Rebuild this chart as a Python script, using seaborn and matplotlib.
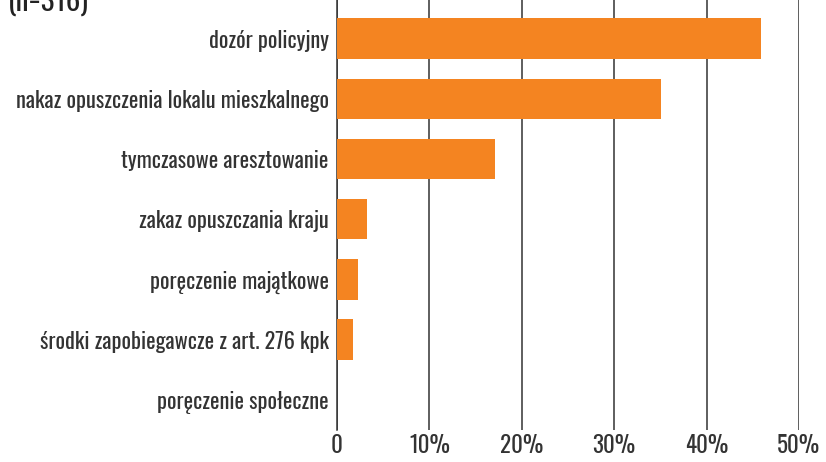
import matplotlib
matplotlib.use("Agg")
import matplotlib.pyplot as plt
import seaborn as sns
import pandas as pd
from matplotlib import font_manager

categories = [
    "dozór policyjny",
    "nakaz opuszczenia lokalu mieszkalnego",
    "tymczasowe aresztowanie",
    "zakaz opuszczania kraju",
    "poręczenie majątkowe",
    "środki zapobiegawcze z art. 276 kpk",
    "poręczenie społeczne",
]
values = [45.9, 35.1, 17.1, 3.2, 2.3, 1.7, 0.0]
xticks = [0, 10, 20, 30, 40, 50]
xtick_labels = ["0", "10%", "20%", "30%", "40%", "50%"]

sns.set_theme(style="white")
names = {f.name for f in font_manager.fontManager.ttflist}
family = "DejaVu Sans"
for cand in ["Oswald Light", "Oswald", "Roboto Condensed", "Barlow Condensed"]:
    if cand in names:
        family = cand
        break
title_family = "Oswald" if "Oswald" in names else family
plt.rcParams["font.family"] = [family, "DejaVu Sans"]

df = pd.DataFrame({"cat": categories, "val": values})

fig = plt.figure(figsize=(8.26, 4.62), dpi=100)
ax = fig.add_axes([337 / 826, 32 / 462, (799 - 337) / 826, 430 / 462])
sns.barplot(data=df, x="val", y="cat", color="#F48421", saturation=1, width=0.67,
            linewidth=0, ax=ax, zorder=3)

ax.set_xlim(0, 50)
ax.set_ylim(6.5, -0.64)
ax.set_xticks(xticks)
ax.set_xticklabels(xtick_labels, fontsize=16.5, color="#333333", fontweight=300)
for lbl in ax.get_yticklabels():
    lbl.set_fontweight(300)
ax.tick_params(axis="y", labelsize=16, labelcolor="#333333", length=0, pad=6)
ax.tick_params(axis="x", length=0, pad=3)
ax.grid(axis="x", color="#333333", linewidth=1.1, zorder=0)
for side in ["top", "right", "bottom"]:
    ax.spines[side].set_visible(False)
ax.spines["left"].set_color("#333333")
ax.spines["left"].set_linewidth(1.1)
ax.set_xlabel("")
ax.set_ylabel("")

fig.text(0.01, 1.028, "(n=316)", fontsize=21, family=[title_family, "DejaVu Sans"],
         color="#222222", va="top", ha="left")

fig.savefig("out.png", dpi=100)
